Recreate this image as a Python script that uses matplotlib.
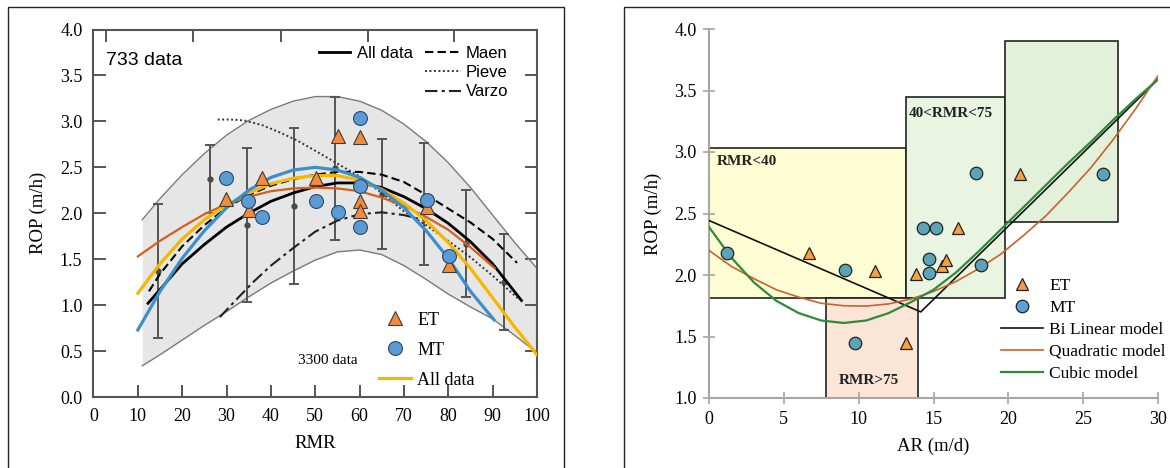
import matplotlib

matplotlib.use("Agg")
import matplotlib.pyplot as plt  # noqa: E402
from matplotlib.lines import Line2D  # noqa: E402
from matplotlib.patches import Rectangle  # noqa: E402

SERIF = "Liberation Serif"
SANS = "Liberation Sans"

# ---- left panel: ROP vs RMR ----
band_x = [11, 15, 20, 25, 30, 35, 40, 45, 50, 55, 60, 65, 70, 75, 80, 85, 90, 95, 100]
band_hi = [1.93, 2.16, 2.42, 2.65, 2.85, 3.01, 3.13, 3.22, 3.27, 3.27, 3.22, 3.12, 2.97, 2.78, 2.55, 2.28, 1.98, 1.68, 1.40]
band_lo = [0.34, 0.46, 0.62, 0.78, 0.93, 1.09, 1.24, 1.37, 1.49, 1.58, 1.60, 1.55, 1.43, 1.28, 1.12, 0.98, 0.85, 0.67, 0.48]

all733_x = [12.3, 15, 20, 25, 30, 35, 40, 45, 50, 55, 60, 65, 70, 75, 80, 85, 90, 96.5]
all733_y = [1.02, 1.17, 1.45, 1.66, 1.85, 2.00, 2.13, 2.22, 2.29, 2.33, 2.33, 2.28, 2.18, 2.05, 1.89, 1.69, 1.45, 1.05]

maen_x = [12.5, 15, 20, 25, 30, 35, 40, 45, 50, 55, 60, 65, 70, 75, 80, 85, 90, 95.5]
maen_y = [1.15, 1.34, 1.64, 1.87, 2.06, 2.20, 2.30, 2.37, 2.42, 2.45, 2.45, 2.42, 2.34, 2.20, 2.05, 1.90, 1.72, 1.46]

pieve_x = [28, 31, 34, 38, 42, 46, 50, 55, 60, 65, 70, 75, 80, 85, 90, 96]
pieve_y = [3.02, 3.02, 3.01, 2.96, 2.88, 2.79, 2.68, 2.54, 2.40, 2.22, 2.02, 1.87, 1.70, 1.52, 1.32, 1.06]

varzo_x = [28.5, 32, 36, 40, 45, 50, 55, 60, 65, 70, 75]
varzo_y = [0.87, 1.05, 1.25, 1.43, 1.62, 1.80, 1.92, 1.99, 2.01, 1.98, 1.92]

red_x = [10, 15, 20, 25, 30, 35, 40, 45, 50, 55, 60, 65, 70, 75, 80, 85, 90.5]
red_y = [1.53, 1.70, 1.85, 1.99, 2.10, 2.18, 2.24, 2.27, 2.28, 2.27, 2.24, 2.17, 2.08, 1.96, 1.82, 1.63, 1.40]

all3300_x = [10, 15, 20, 25, 30, 35, 40, 45, 50, 55, 60, 65, 70, 75, 80, 85, 90, 95, 100]
all3300_y = [1.13, 1.45, 1.72, 1.93, 2.09, 2.22, 2.32, 2.38, 2.41, 2.41, 2.36, 2.26, 2.11, 1.92, 1.68, 1.40, 1.08, 0.76, 0.46]

blue_x = [10, 15, 20, 25, 30, 35, 40, 45, 50, 55, 60, 65, 70, 75, 80, 85, 90.3]
blue_y = [0.73, 1.15, 1.51, 1.81, 2.06, 2.25, 2.39, 2.47, 2.50, 2.47, 2.39, 2.25, 2.06, 1.81, 1.51, 1.15, 0.84]

eb_x = [14.5, 26.3, 34.5, 45.2, 54.5, 65.0, 74.5, 84.0, 92.5]
eb_y = [1.37, 2.37, 1.87, 2.08, 2.49, 2.21, 2.10, 1.67, 1.25]
eb_err = [0.73, 0.37, 0.84, 0.85, 0.78, 0.60, 0.66, 0.58, 0.52]

et_rmr = [29.9, 35.0, 38.0, 50.1, 55.1, 60.0, 60.0, 60.0, 75.2, 80.2]
et_rop_l = [2.16, 2.04, 2.38, 2.38, 2.84, 2.83, 2.13, 2.02, 2.07, 1.44]
mt_rmr = [29.9, 34.9, 38.1, 50.1, 55.1, 60.0, 60.0, 60.0, 75.2, 80.2]
mt_rop_l = [2.38, 2.13, 1.96, 2.13, 2.01, 3.04, 2.30, 1.85, 2.14, 1.53]

rmr_ticks = [0, 10, 20, 30, 40, 50, 60, 70, 80, 90, 100]
rop_ticks_l = [0.0, 0.5, 1.0, 1.5, 2.0, 2.5, 3.0, 3.5, 4.0]
old_top_ticks = [2.9, 22.4, 42.3, 62.0, 81.2]  # leftover ticks of the underlying figure

# ---- right panel: ROP vs AR ----
et_ar = [6.66, 11.1, 13.15, 13.85, 15.6, 15.85, 16.65, 20.8]
et_rop_r = [2.18, 2.03, 1.45, 2.01, 2.07, 2.12, 2.38, 2.82]
mt_ar = [1.17, 9.08, 9.78, 14.27, 15.15, 14.7, 14.7, 17.82, 18.19, 26.3]
mt_rop_r = [2.18, 2.04, 1.45, 2.38, 2.38, 2.13, 2.02, 2.83, 2.08, 2.82]

bilin_x = [0, 14.15, 30]
bilin_y = [2.443, 1.70, 3.59]
model_x = [0, 1.5, 3, 4.5, 6, 7.5, 9, 10.5, 12, 13.5, 15,
           16.5, 18, 19.5, 21, 22.5, 24, 25.5, 27, 28.5, 30]
quad_y = [2.20, 2.07, 1.97, 1.88, 1.82, 1.77, 1.75, 1.747, 1.765, 1.805, 1.866,
          1.947, 2.05, 2.17, 2.32, 2.48, 2.67, 2.87, 3.10, 3.35, 3.62]
cubic_y = [2.39, 2.14, 1.94, 1.79, 1.69, 1.63, 1.61, 1.63, 1.69, 1.78, 1.88,
           2.02, 2.19, 2.37, 2.55, 2.73, 2.91, 3.08, 3.26, 3.43, 3.59]

# zones
zone_names = ["RMR<40", "40<RMR<75", "", "RMR>75"]
zone_x0 = [0.0, 13.15, 19.8, 7.85]
zone_x1 = [13.15, 19.8, 27.3, 13.95]
zone_y0 = [1.81, 1.81, 2.43, 1.0]
zone_y1 = [3.03, 3.45, 3.90, 1.81]
zone_colors = ["#FEFDD3", "#EAF5E1", "#E3F0DA", "#FBE5D7"]

ar_ticks = [0, 5, 10, 15, 20, 25, 30]
rop_ticks_r = [1.0, 1.5, 2.0, 2.5, 3.0, 3.5, 4.0]

ET_FACE = "#F28C3C"
MT_FACE = "#5B9BD5"
MT_FACE_R = "#5BA4B8"

fig = plt.figure(figsize=(11.7, 4.68), dpi=100)

# panel frames
fig.add_artist(Rectangle((8 / 1170, -0.02), 556 / 1170, 1.02 - 7 / 468,
                         transform=fig.transFigure, fill=False, lw=1, ec="#222"))
fig.add_artist(Rectangle((624 / 1170, -0.02), 0.5, 1.02 - 7 / 468,
                         transform=fig.transFigure, fill=False, lw=1, ec="#222"))

# ================= left panel =================
ax = fig.add_axes([93.5 / 1170, 1 - 397 / 468, 443.5 / 1170, 367.5 / 468])
ax.set_xlim(0, 100)
ax.set_ylim(0, 4)

ax.fill_between(band_x, band_lo, band_hi, color="#E6E6E6", lw=0, zorder=1)
ax.plot(band_x, band_hi, color="#7a7a7a", lw=1.0, zorder=2)
ax.plot(band_x, band_lo, color="#7a7a7a", lw=1.0, zorder=2)

ax.errorbar(eb_x, eb_y, yerr=eb_err, fmt="o", ms=3.5, color="#4a4a4a",
            ecolor="#555555", elinewidth=1.4, capsize=3.5, capthick=1.4, zorder=3)

ax.plot(all733_x, all733_y, color="black", lw=2.0, zorder=4)
ax.plot(maen_x, maen_y, color="black", lw=1.5, dashes=(4, 2), zorder=4)
ax.plot(pieve_x, pieve_y, color="#333333", lw=1.4, dashes=(1, 1.3), zorder=4)
ax.plot(varzo_x, varzo_y, color="#222222", lw=1.5, dashes=(6, 2, 1.5, 2), zorder=4)
ax.plot(red_x, red_y, color="#D4601A", lw=1.6, zorder=5)
ax.plot(all3300_x, all3300_y, color="#F5B700", lw=2.3, zorder=5)
ax.plot(blue_x, blue_y, color="#3D8FCC", lw=2.3, zorder=5)

ax.plot(et_rmr, et_rop_l, ls="none", marker="^", ms=10, mfc=ET_FACE, mec="#3a3a3a",
        mew=0.8, zorder=6)
ax.plot(mt_rmr, mt_rop_l, ls="none", marker="o", ms=10, mfc=MT_FACE, mec="#2b4a66",
        mew=0.8, zorder=6)

for side in ax.spines.values():
    side.set_color("#555555")
    side.set_linewidth(1.5)
ax.set_xticks(rmr_ticks)
ax.set_yticks(rop_ticks_l)
ax.set_xticklabels([str(v) for v in rmr_ticks], family=SERIF, fontsize=13)
ax.set_yticklabels([f"{v:.1f}" for v in rop_ticks_l], family=SERIF, fontsize=13)
ax.tick_params(direction="in", length=9, width=1.4, color="#555555", right=True,
               pad=8)
top = ax.secondary_xaxis("top")
top.set_xticks(old_top_ticks)
top.tick_params(direction="in", length=9, width=1.4, color="#555555", labeltop=False)
top.spines["top"].set_visible(False)

ax.set_xlabel("RMR", family=SERIF, fontsize=13.5, labelpad=7)
ax.set_ylabel("ROP (m/h)", family=SERIF, fontsize=13.5, labelpad=9)

ax.text(0.028, 0.917, "733 data", transform=ax.transAxes, family=SANS,
        fontsize=14, va="center", ha="left")
ax.text(0.461, 0.10, "3300 data", transform=ax.transAxes, family=SERIF,
        fontsize=11, va="center", ha="left")

leg_a = ax.legend([Line2D([], [], color="black", lw=2)], ["All data"],
                  loc="upper left", bbox_to_anchor=(0.508, 0.955), frameon=False,
                  borderpad=0, borderaxespad=0, handlelength=1.9,
                  handletextpad=0.4, prop={"family": SANS, "size": 12})
ax.add_artist(leg_a)
leg_b = ax.legend([Line2D([], [], color="black", lw=1.5, dashes=(4, 2)),
                   Line2D([], [], color="#333333", lw=1.4, dashes=(1, 1.3)),
                   Line2D([], [], color="#222222", lw=1.5, dashes=(6, 2, 1.5, 2))],
                  ["Maen", "Pieve", "Varzo"],
                  loc="upper left", bbox_to_anchor=(0.747, 0.955), frameon=False,
                  borderpad=0, borderaxespad=0, handlelength=2.15,
                  handletextpad=0.3, labelspacing=0.25,
                  prop={"family": SANS, "size": 12})
ax.add_artist(leg_b)
ax.legend([Line2D([], [], ls="none", marker="^", ms=10, mfc=ET_FACE, mec="#3a3a3a", mew=0.8),
           Line2D([], [], ls="none", marker="o", ms=10, mfc=MT_FACE, mec="#2b4a66", mew=0.8),
           Line2D([], [], color="#F5B700", lw=2.3)],
          ["ET", "MT", "All data"],
          loc="upper left", bbox_to_anchor=(0.644, 0.232), frameon=False,
          borderpad=0, borderaxespad=0, handlelength=1.75, handletextpad=0.35,
          labelspacing=0.72, prop={"family": SERIF, "size": 13})

# ================= right panel =================
bx = fig.add_axes([709 / 1170, 1 - 398 / 468, 449 / 1170, 369 / 468])
bx.set_xlim(0, 30)
bx.set_ylim(1, 4)

for name, x0, x1, y0, y1, fc in zip(zone_names, zone_x0, zone_x1, zone_y0, zone_y1,
                                     zone_colors):
    bx.add_patch(Rectangle((x0, y0), x1 - x0, y1 - y0, fc=fc, ec="#222222",
                           lw=1.2, zorder=1))

bx.text(0.55, 2.92, zone_names[0], family=SERIF, fontsize=11, fontweight="bold",
        ha="left", va="center", color="#222")
bx.text(13.35, 3.31, zone_names[1], family=SERIF, fontsize=11, fontweight="bold",
        ha="left", va="center", color="#222")
bx.text(10.7, 1.14, zone_names[3], family=SERIF, fontsize=11, fontweight="bold",
        ha="center", va="center", color="#222")

bx.plot(bilin_x, bilin_y, color="#111111", lw=1.2, zorder=3)
bx.plot(model_x, quad_y, color="#C8642A", lw=1.2, zorder=3)
bx.plot(model_x, cubic_y, color="#2E8B3A", lw=1.6, zorder=3)

bx.plot(et_ar, et_rop_r, ls="none", marker="^", ms=9, mfc="#F7A13C", mec="#222",
        mew=0.9, zorder=5)
bx.plot(mt_ar, mt_rop_r, ls="none", marker="o", ms=9, mfc=MT_FACE_R, mec="#222",
        mew=0.9, zorder=5)

for s in ("top", "right"):
    bx.spines[s].set_visible(False)
for s in ("left", "bottom"):
    bx.spines[s].set_color("#A6A6A6")
    bx.spines[s].set_linewidth(1.5)
bx.set_xticks(ar_ticks)
bx.set_yticks(rop_ticks_r)
bx.set_xticklabels([str(v) for v in ar_ticks], family=SERIF, fontsize=13)
bx.set_yticklabels([f"{v:.1f}" for v in rop_ticks_r], family=SERIF, fontsize=13)
bx.tick_params(direction="inout", length=8, width=1.2, color="#A6A6A6", pad=5)
bx.set_xlabel("AR (m/d)", family=SERIF, fontsize=13.5, labelpad=7)
bx.set_ylabel("ROP (m/h)", family=SERIF, fontsize=13.5, labelpad=9)

bx.legend([Line2D([], [], ls="none", marker="^", ms=9, mfc="#F79646", mec="#222", mew=0.9),
           Line2D([], [], ls="none", marker="o", ms=9, mfc="#5BA2DA", mec="#222", mew=0.9),
           Line2D([], [], color="#111111", lw=1.2),
           Line2D([], [], color="#C8642A", lw=1.2),
           Line2D([], [], color="#2E8B3A", lw=1.6)],
          ["ET", "MT", "Bi Linear model", "Quadratic model", "Cubic model"],
          loc="upper left", bbox_to_anchor=(0.650, 0.325), frameon=False,
          borderpad=0, borderaxespad=0, handlelength=2.45, handletextpad=0.35,
          labelspacing=0.33, prop={"family": SERIF, "size": 12.5})

fig.savefig("out.png", dpi=100, facecolor="white")
